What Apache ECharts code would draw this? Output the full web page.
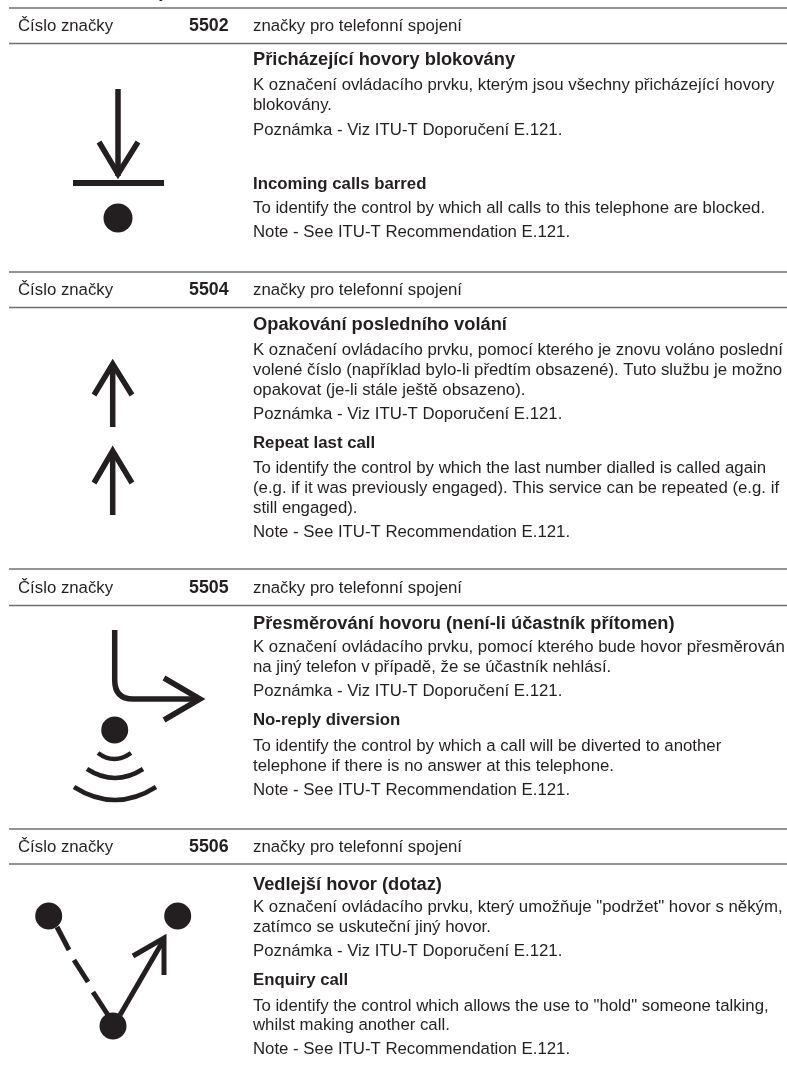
<!DOCTYPE html>
<html><head><meta charset="utf-8">
<style>html,body{margin:0;padding:0;background:#fff}#c{width:787px;height:1080px}</style>
<script src="https://cdn.jsdelivr.net/npm/echarts@6/dist/echarts.min.js"></script></head>
<body><div id="c"></div>
<script>
const signNumbers = ['5502','5504','5505','5506'];
const headerLabel = 'Číslo značky';
const groupLabel = 'značky pro telefonní spojení';
const block1 = [['Přicházející hovory blokovány',1],['K označení ovládacího prvku, kterým jsou všechny přicházející hovory',0],['blokovány.',0],['Poznámka - Viz ITU-T Doporučení E.121.',0],['Incoming calls barred',2],['To identify the control by which all calls to this telephone are blocked.',0],['Note - See ITU-T Recommendation E.121.',0]];
const block2 = [['Opakování posledního volání',1],['K označení ovládacího prvku, pomocí kterého je znovu voláno poslední',0],['volené číslo (například bylo-li předtím obsazené). Tuto službu je možno',0],['opakovat (je-li stále ještě obsazeno).',0],['Poznámka - Viz ITU-T Doporučení E.121.',0],['Repeat last call',2],['To identify the control by which the last number dialled is called again',0],['(e.g. if it was previously engaged). This service can be repeated (e.g. if',0],['still engaged).',0],['Note - See ITU-T Recommendation E.121.',0]];
const block3 = [['Přesměrování hovoru (není-li účastník přítomen)',1],['K označení ovládacího prvku, pomocí kterého bude hovor přesměrován',0],['na jiný telefon v případě, že se účastník nehlásí.',0],['Poznámka - Viz ITU-T Doporučení E.121.',0],['No-reply diversion',2],['To identify the control by which a call will be diverted to another',0],['telephone if there is no answer at this telephone.',0],['Note - See ITU-T Recommendation E.121.',0]];
const block4 = [['Vedlejší hovor (dotaz)',1],['K označení ovládacího prvku, který umožňuje "podržet" hovor s někým,',0],['zatímco se uskuteční jiný hovor.',0],['Poznámka - Viz ITU-T Doporučení E.121.',0],['Enquiry call',2],['To identify the control which allows the use to "hold" someone talking,',0],['whilst making another call.',0],['Note - See ITU-T Recommendation E.121.',0]];
const blocks = [block1,block2,block3,block4];
const lineMids = [
 [60,85,105,130,184.5,208.5,232.5],
 [325,350,370,390,414,443.5,468,488,508,532],
 [623.5,647,667,691,720.5,746,766,790],
 [884.5,907,927,951,980.5,1006,1025,1049]];
const rules = [[8,43.5],[272,307.5],[569,605.5],[829,864]];
const headerY = [26,290,588,847];
const SANS='"Liberation Sans",Arial,sans-serif', INK='#231f20';
const g=[];
function txt(x,y,s,size,bold){g.push({type:'text',x,y,silent:true,style:{text:s,fill:INK,font:(bold?'bold ':'')+size+'px '+SANS,verticalAlign:'middle',align:'left'}});}
function line(x1,y1,x2,y2,w,color){g.push({type:'line',shape:{x1,y1,x2,y2},silent:true,style:{stroke:color||INK,lineWidth:w}});}
function dot(cx,cy,r){g.push({type:'circle',shape:{cx,cy,r},silent:true,style:{fill:INK}});}
function poly(points,w){g.push({type:'polyline',shape:{points},silent:true,style:{fill:'none',stroke:INK,lineWidth:w,lineJoin:'miter'}});}
function curve(x1,y1,cpx1,cpy1,x2,y2,w){g.push({type:'bezierCurve',shape:{x1,y1,cpx1,cpy1,x2,y2},silent:true,style:{fill:'none',stroke:INK,lineWidth:w}});}
txt(159,-7,'y',16.8,false);
rules.forEach((r,i)=>{
 line(9,r[0],787,r[0],1.4,'#6f6f6f'); line(9,r[1],787,r[1],1.4,'#6f6f6f');
 txt(18,headerY[i],headerLabel,16.8,false);
 txt(189,headerY[i],signNumbers[i],17.8,true);
 txt(253,headerY[i],groupLabel,16.8,false);
 blocks[i].forEach((l,j)=>txt(253,lineMids[i][j],l[0],l[1]==1?18.3:16.8,l[1]>0));
});
// sign 5502
line(118,89,118,176,5.5); poly([[99,142],[118,174],[138,142]],5.5); line(73,183,164,183,6); dot(118,218,14.5);
// sign 5504
line(112.7,364,112.7,427,5.5); poly([[94,395],[112.7,364],[132,395]],5.5);
line(112.7,451,112.7,515,5.5); poly([[94,483],[112.7,451],[132,483]],5.5);
// sign 5505
line(114.7,630,114.7,680,5.5); curve(114.7,680,114.7,699,133,699,5.5); line(133,699,200,699,5.5); poly([[164,678],[200,699],[164,720]],5.5); dot(114.7,730,13.5);
curve(98,753,114,765,131,753,4.5); curve(87,769,115,787,143,769,4.5); curve(74,787,115,813,156,787,4.5);
// sign 5506
dot(48.7,916,13.5); dot(177.7,916,13.5); dot(113,1026,13.5);
line(57,927,69,950,5); line(74,960,88,982,5); line(93,992,108,1015,5);
line(120,1015,163,941,5); poly([[133,956],[164,938],[164,975]],5);
const chart=echarts.init(document.getElementById('c'),null,{renderer:'canvas',width:787,height:1080});
chart.setOption({animation:false,backgroundColor:'#fff',graphic:{elements:g}});
</script></body></html>
